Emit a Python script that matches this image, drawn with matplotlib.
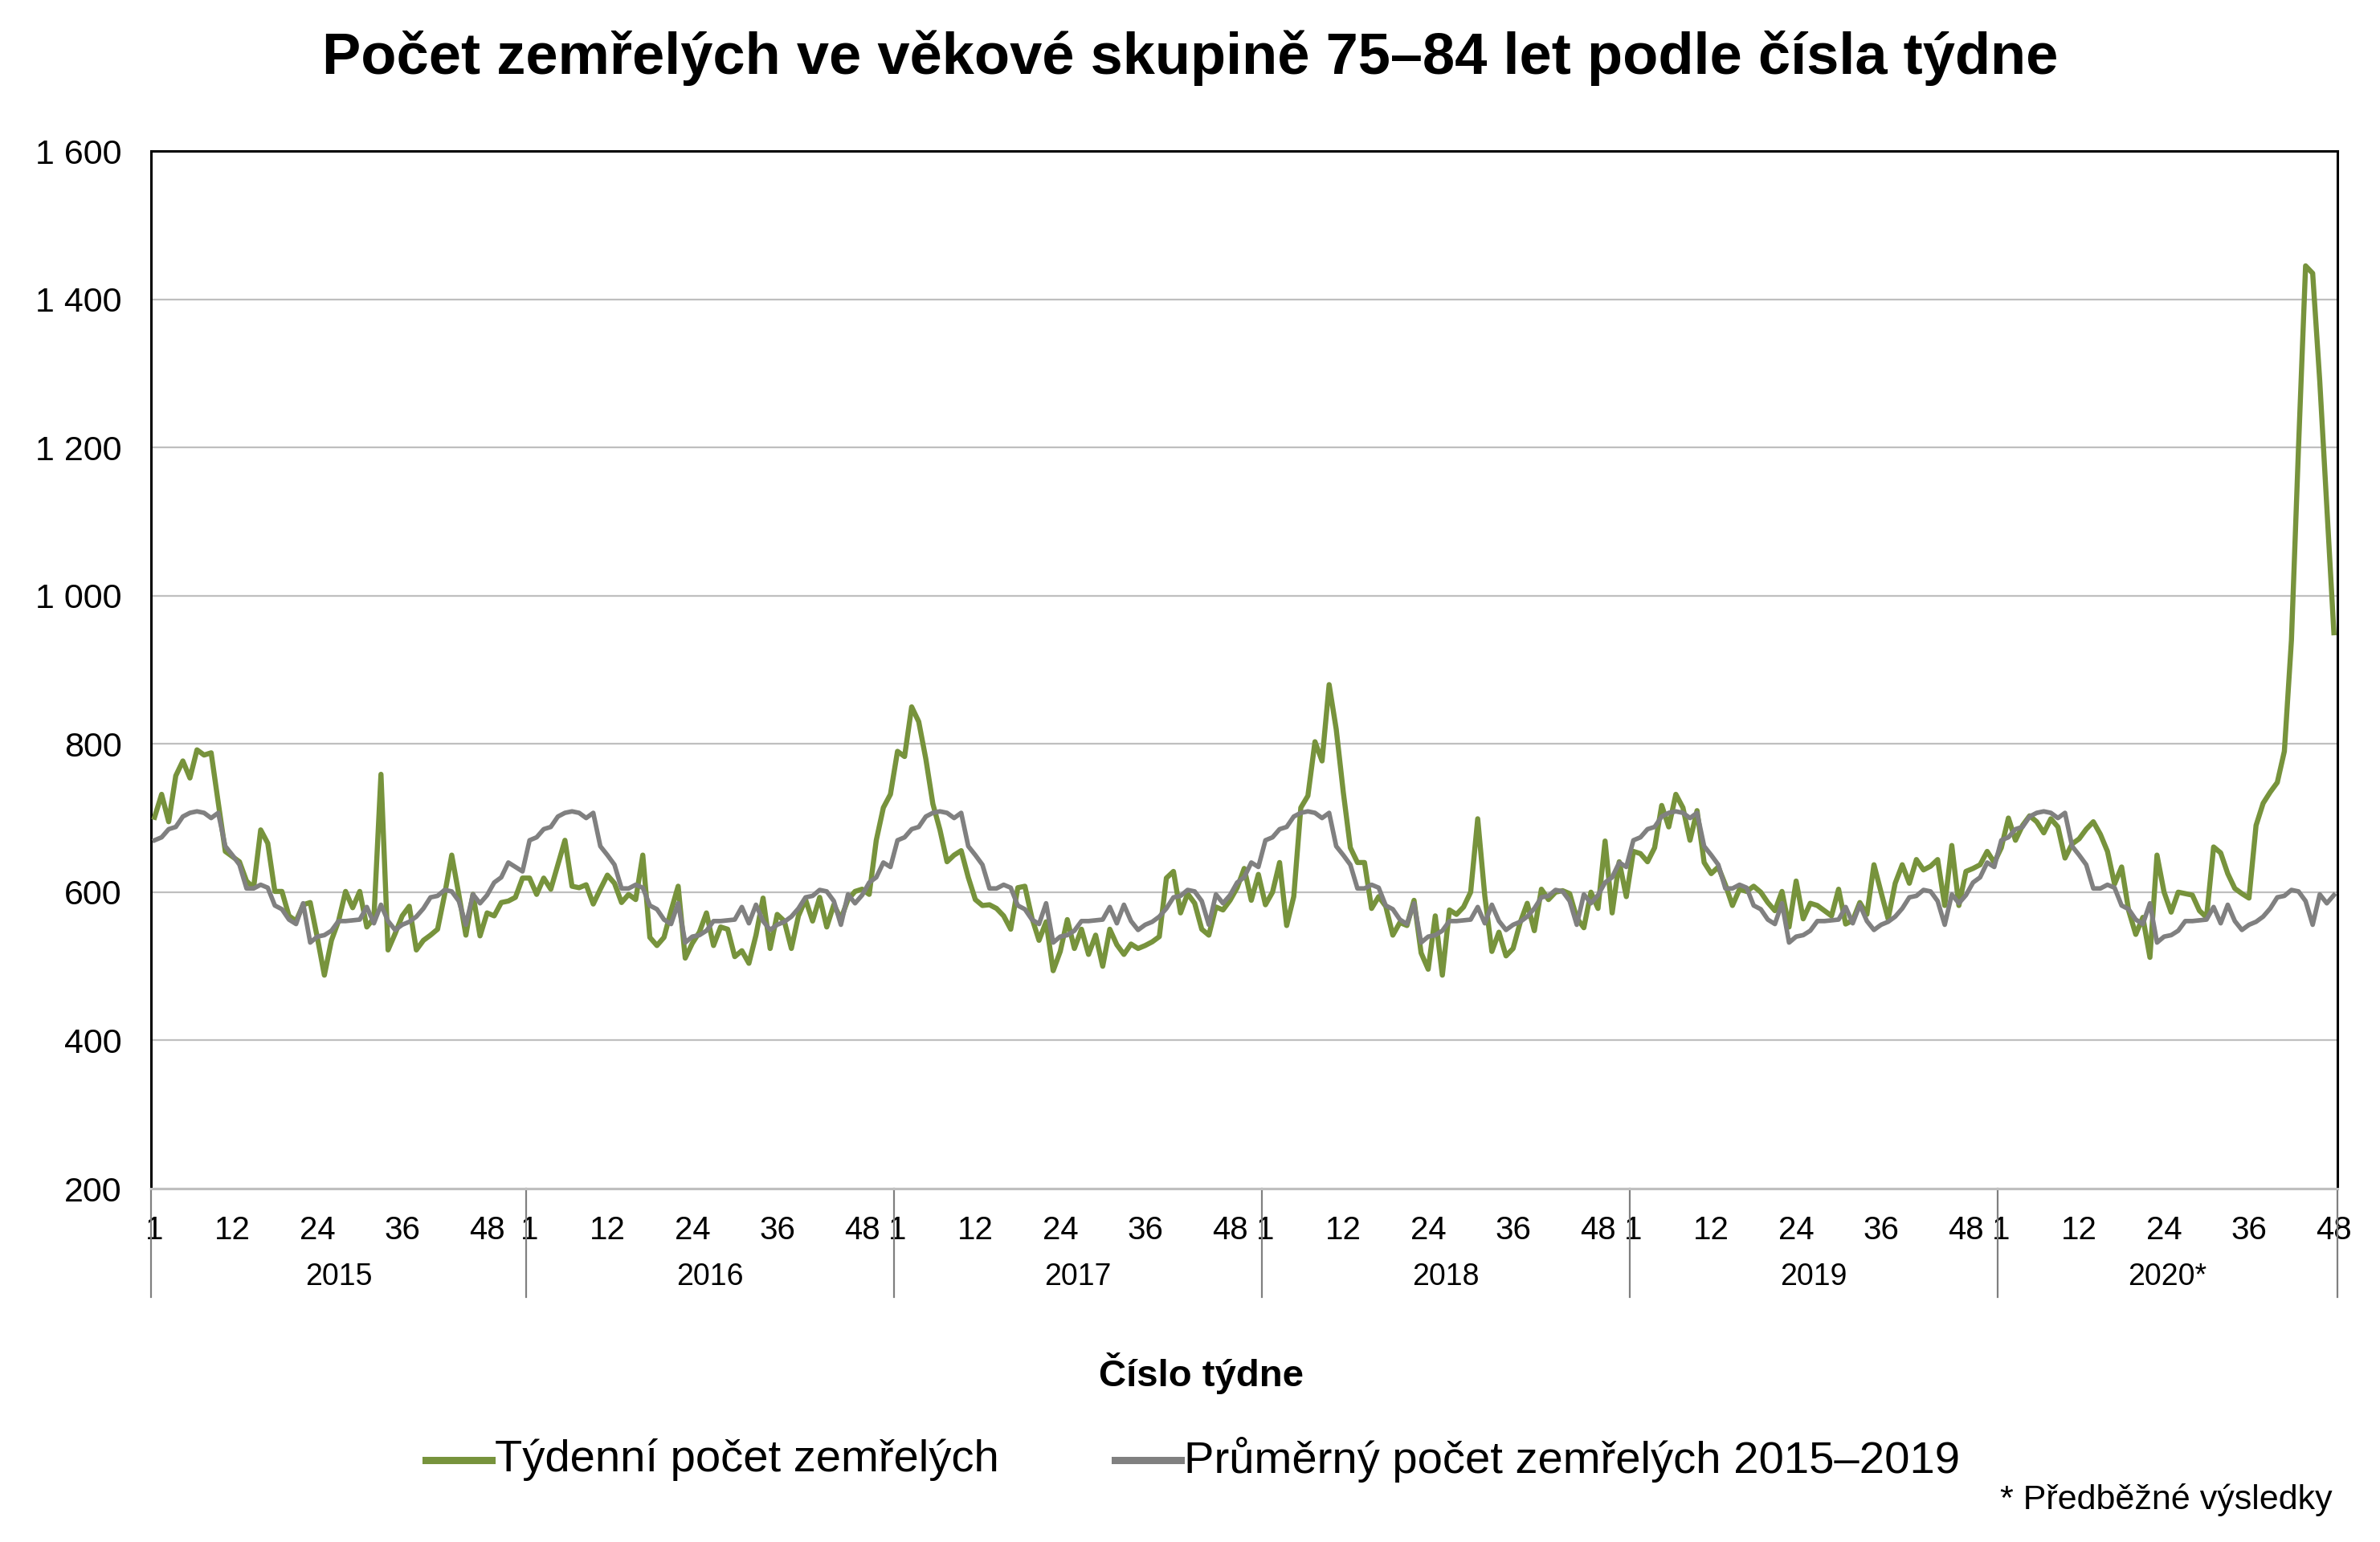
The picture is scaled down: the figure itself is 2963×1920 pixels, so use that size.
import matplotlib
matplotlib.use('Agg')
import matplotlib.pyplot as plt
from matplotlib.lines import Line2D
from matplotlib.ticker import FuncFormatter
import numpy as np

plt.rcParams['font.family'] = ['Liberation Sans', 'DejaVu Sans']

# týdenní počty zemřelých 75–84 let
years = ['2015', '2016', '2017', '2018', '2019', '2020*']
weeks_in_year = [53, 52, 52, 52, 52, 48]

y2015 = [701, 732, 695, 757, 777, 754, 792, 785, 788, 721, 655, 648, 641, 615, 606, 684,
         666, 601, 601, 568, 561, 583, 586, 539, 488, 535, 561, 601, 579, 601, 553, 565,
         759, 522, 544, 568, 581, 522, 535, 542, 550, 597, 650, 597, 542, 597, 541, 572,
         568, 586, 588, 593, 619]
y2016 = [619, 597, 619, 604, 637, 670, 608, 606, 610, 584, 604, 623, 612, 586, 597, 590,
         650, 539, 528, 539, 575, 608, 511, 531, 546, 572, 528, 553, 550, 513, 521, 504,
         542, 592, 524, 570, 561, 524, 568, 590, 561, 593, 553, 583, 564, 590, 601, 604,
         597, 670, 714, 732]
y2017 = [790, 783, 850, 830, 780, 719, 684, 641, 650, 656, 620, 590, 582, 583, 578, 568,
         550, 606, 608, 565, 535, 560, 494, 520, 563, 524, 550, 516, 542, 500, 550, 529,
         516, 530, 524, 528, 533, 540, 619, 628, 572, 598, 585, 550, 542, 580, 576, 589,
         606, 632, 589, 624]
y2018 = [583, 600, 640, 555, 594, 714, 730, 803, 777, 880, 820, 735, 660, 640, 640, 578,
         594, 581, 542, 559, 555, 589, 518, 496, 568, 488, 576, 570, 580, 600, 699, 595,
         520, 546, 514, 524, 559, 585, 548, 604, 590, 600, 602, 598, 565, 552, 600, 578,
         669, 572, 641, 594]
y2019 = [655, 652, 641, 660, 717, 688, 732, 714, 670, 710, 640, 625, 634, 610, 582, 604,
         601, 608, 600, 586, 575, 601, 553, 615, 564, 585, 582, 575, 568, 604, 557, 562,
         586, 570, 637, 600, 564, 612, 637, 612, 644, 630, 635, 644, 582, 663, 582, 628,
         632, 637, 655, 640]
y2020 = [660, 700, 670, 690, 703, 695, 680, 699, 688, 646, 665, 672, 685, 695, 678, 655,
         611, 634, 575, 543, 566, 512, 650, 600, 573, 600, 598, 596, 575, 566, 661, 653,
         625, 605, 598, 592, 690, 720, 735, 748, 790, 940, 1200, 1445, 1435, 1290, 1120, 950]

# průměr 2015–2019 podle čísla týdne (1–53)
avg_week = [670, 674, 685, 688, 702, 707, 709, 707, 700, 707, 662, 650, 637, 605, 605, 610,
            606, 582, 577, 563, 557, 585, 532, 540, 542, 548, 561, 561, 562, 563, 580, 558,
            583, 561, 549, 556, 560, 567, 578, 593, 595, 603, 601, 588, 556, 597, 585, 596,
            613, 620, 640, 634, 628]

week_labels = [1, 12, 24, 36, 48]

weekly = np.array(y2015 + y2016 + y2017 + y2018 + y2019 + y2020, dtype=float)
average = np.concatenate([avg_week[:n] for n in weeks_in_year]).astype(float)
x = np.arange(len(weekly))

W, H = 2963, 1920
fig = plt.figure(figsize=(W / 100, H / 100), dpi=100)
fig.patch.set_facecolor('white')

left, right, top, bottom = 188, 2910, 188, 1480
ax = fig.add_axes([left / W, 1 - bottom / H, (right - left) / W, (bottom - top) / H])

green = '#77933c'
gray = '#808080'
grid_color = '#bfbfbf'

ax.plot(x, weekly, color=green, linewidth=4.6, solid_joinstyle='round', zorder=3)
ax.plot(x, average, color=gray, linewidth=4.1, solid_joinstyle='round', zorder=4)

ax.set_xlim(-0.5, len(weekly) - 0.5)
ax.set_ylim(200, 1600)
ax.set_yticks(range(200, 1601, 200))
ax.yaxis.set_major_formatter(FuncFormatter(lambda v, p: f"{int(v):,}".replace(',', ' ')))
ax.grid(axis='y', color=grid_color, linewidth=1.6, zorder=0)
ax.set_axisbelow(True)
ax.tick_params(axis='y', length=0, labelsize=31, pad=26, colors='black')

for side in ['left', 'top', 'right']:
    ax.spines[side].set_color('black')
    ax.spines[side].set_linewidth(2.2)
ax.spines['bottom'].set_color(grid_color)
ax.spines['bottom'].set_linewidth(2.2)

# popisky týdnů a roků
ticks, labels = [], []
start = 0
bounds = [0]
for yr, n in zip(years, weeks_in_year):
    for w in week_labels:
        if w <= n:
            ticks.append(start + w - 1)
            labels.append(str(w))
    start += n
    bounds.append(start)
ax.set_xticks(ticks)
ax.set_xticklabels(labels)
ax.tick_params(axis='x', length=0, labelsize=29, pad=24, colors='black')

trans = ax.get_xaxis_transform()
y_sep = -(1615 - bottom) / (bottom - top)
for b in bounds:
    ax.add_line(Line2D([b - 0.5, b - 0.5], [0, y_sep], transform=trans, color=gray,
                       linewidth=1.6, clip_on=False))
y_year = -(1590 - bottom) / (bottom - top)
for yr, a, b in zip(years, bounds[:-1], bounds[1:]):
    ax.text((a + b - 1) / 2, y_year, yr, transform=trans, ha='center', va='center', fontsize=27)

fig.text(1482 / W, 1 - 72 / H, 'Počet zemřelých ve věkové skupině 75–84 let podle čísla týdne',
         ha='center', va='center', fontsize=52, fontweight='bold')
fig.text(1495 / W, 1 - 1710 / H, 'Číslo týdne', ha='center', va='center',
         fontsize=34, fontweight='bold')

# legenda
leg_y = 1 - 1818 / H
fig.add_artist(Line2D([530 / W, 612 / W], [leg_y, leg_y], color=green, linewidth=6.5))
fig.text(616 / W, leg_y, 'Týdenní počet zemřelých', ha='left', va='center', fontsize=40.5)
fig.add_artist(Line2D([1388 / W, 1470 / W], [leg_y, leg_y], color=gray, linewidth=6.5))
fig.text(1474 / W, leg_y, 'Průměrný počet zemřelých 2015–2019', ha='left', va='center', fontsize=40.5)

fig.text(2904 / W, 1 - 1868 / H, '* Předběžné výsledky', ha='right', va='center', fontsize=31)

fig.savefig('out.png', dpi=100, facecolor='white')
plt.close(fig)
